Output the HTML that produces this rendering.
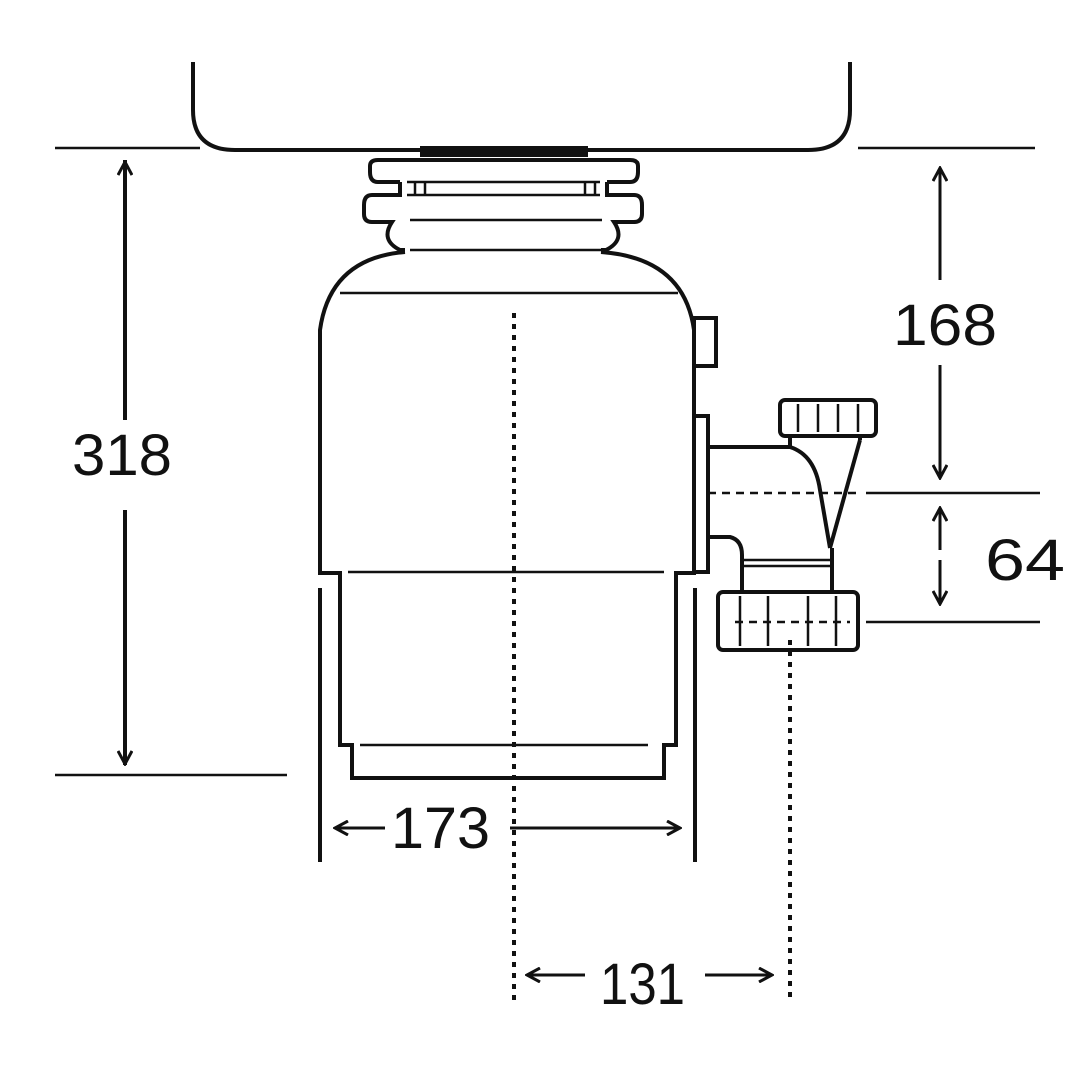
<!DOCTYPE html>
<html><head><style>body{margin:0;background:#fff}svg{display:block}text{font-family:"Liberation Sans",sans-serif;font-size:58px;fill:#111}</style></head><body>
<svg width="1090" height="1090" viewBox="0 0 1090 1090" xmlns="http://www.w3.org/2000/svg">
<defs><marker id="a" markerWidth="16" markerHeight="16" refX="14" refY="8" orient="auto" markerUnits="userSpaceOnUse"><path d="M1,1 L14,8 L1,15" fill="none" stroke="#111" stroke-width="3"/></marker></defs>
<g fill="none" stroke="#111" stroke-width="4">
<path d="M193 62 V110 Q193 150 235 150 H808 Q850 150 850 110 V62"/>
<rect x="420" y="146" width="168" height="11" fill="#111" stroke="none"/>
<path d="M400 182 H378 Q370 182 370 172 V166 Q370 160 378 160 H630 Q638 160 638 166 V172 Q638 182 630 182 H607"/>
<path d="M400 182 V195 H372 Q364 195 364 205 V214 Q364 222 372 222 H392 Q380 240 400 250 H405"/>
<path d="M607 182 V195 H634 Q642 195 642 205 V214 Q642 222 634 222 H614 Q626 240 606 250 H601"/>
<path d="M405 252 Q330 258 320 330 V573 H340 V745 H352 V778 H664 V745 H676 V573 H694 V330 Q684 258 601 252"/>
<rect x="694" y="318" width="22" height="48"/>
<rect x="694" y="416" width="14" height="156"/>
<path d="M708 447 H790 Q815 455 820 490 L830 548"/>
<path d="M860 440 L830 548"/>
<path d="M790 437 V447 M860 437 V440"/>
<rect x="780" y="400" width="96" height="36" rx="5"/>
<path d="M708 537 H730 Q742 540 742 555 V590 M832 548 V590"/>
<rect x="718" y="592" width="140" height="58" rx="5"/>
<path d="M320 588 V862 M695 588 V862 M125 510 V765 M125 160 V420"/>
</g>
<g stroke="#111" stroke-width="2.5" fill="none">
<path d="M407 182 H600 M407 195 H600 M410 220 H602 M410 250 H604 M340 293 H678 M348 572 H664 M360 745 H648 M742 560 H832 M742 566 H832"/>
<path d="M415 182 V195 M425 182 V195 M585 182 V195 M595 182 V195"/>
<path d="M798 404 V432 M818 404 V432 M838 404 V432 M858 404 V432 M740 596 V646 M768 596 V646 M808 596 V646 M836 596 V646"/>
<path d="M55 148 H200 M858 148 H1035 M866 493 H1040 M866 622 H1040 M55 775 H287"/>
<path d="M708 493 H860" stroke-dasharray="8 6"/>
<path d="M735 622 H850" stroke-dasharray="8 6"/>
</g>
<g stroke="#111" stroke-width="4" stroke-dasharray="5 6"><path d="M514 313 V1000 M790 640 V1000"/></g>
<g stroke="#111" stroke-width="3" fill="none">
<path d="M125 420 V162" marker-end="url(#a)"/><path d="M125 510 V764" marker-end="url(#a)"/>
<path d="M940 280 V168" marker-end="url(#a)"/><path d="M940 365 V478" marker-end="url(#a)"/>
<path d="M940 550 V508" marker-end="url(#a)"/><path d="M940 560 V604" marker-end="url(#a)"/>
<path d="M385 828 H335" marker-end="url(#a)"/><path d="M510 828 H680" marker-end="url(#a)"/>
<path d="M585 975 H527" marker-end="url(#a)"/><path d="M705 975 H772" marker-end="url(#a)"/>
</g>
<text x="72" y="475" textLength="100" lengthAdjust="spacingAndGlyphs">318</text>
<text x="893" y="345" textLength="104" lengthAdjust="spacingAndGlyphs">168</text>
<text x="985" y="580" textLength="80" lengthAdjust="spacingAndGlyphs">64</text>
<text x="391" y="848" textLength="99" lengthAdjust="spacingAndGlyphs">173</text>
<text x="600" y="1004" textLength="85" lengthAdjust="spacingAndGlyphs">131</text>
</svg>
</body></html>
